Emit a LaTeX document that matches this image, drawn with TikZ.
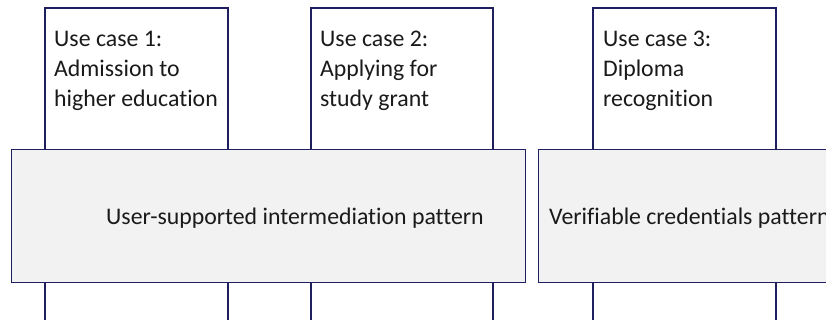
\documentclass[tikz,border=0pt]{standalone}
\usepackage{fontspec}
\setmainfont[Ligatures=CommonOff]{Carlito}
\definecolor{navy}{HTML}{1F1F5F}
\definecolor{pfill}{HTML}{F2F2F2}
\definecolor{ink}{HTML}{1A1A1A}
\begin{document}
\begin{tikzpicture}[x=1pt,y=-1pt,
  frame/.style={draw=navy,line width=1.4pt},
  uctext/.style={anchor=base west,align=left,inner sep=0pt,text=ink,font=\fontsize{23.8}{30}\selectfont},
  pbox/.style={draw=navy,line width=1.4pt,fill=pfill,anchor=north west,minimum width=514pt,minimum height=133pt,inner sep=0pt},
  ptext/.style={anchor=base west,inner sep=0pt,text=ink,font=\fontsize{23.8}{30}\selectfont}]
\useasboundingbox (0,0) rectangle (826,320);
\clip (0,0) rectangle (826,320);
\fill[white] (0,0) rectangle (826,320);
% use case frames (open at the bottom)
\draw[frame] (45,330) -- (45,8) -- (228,8) -- (228,330);
\draw[frame] (311,330) -- (311,8) -- (493,8) -- (493,330);
\draw[frame] (593,330) -- (593,8) -- (776,8) -- (776,330);
\node[uctext] (uc1) at (54,107) {Use case 1:\\Admission to\\higher education};
\node[uctext] (uc2) at (320,107) {Use case 2:\\Applying for\\study grant};
\node[uctext] (uc3) at (603,107) {Use case 3:\\Diploma\\recognition};
% pattern boxes
\node[pbox] (p1) at (11,149) {};
\node[pbox,minimum width=320pt] (p2) at (538,149) {};
\node[ptext] (t1) at (106,225) {User-supported intermediation pattern};
\node[ptext] (t2) at (549,225) {Verifiable credentials pattern};
\end{tikzpicture}
\end{document}
